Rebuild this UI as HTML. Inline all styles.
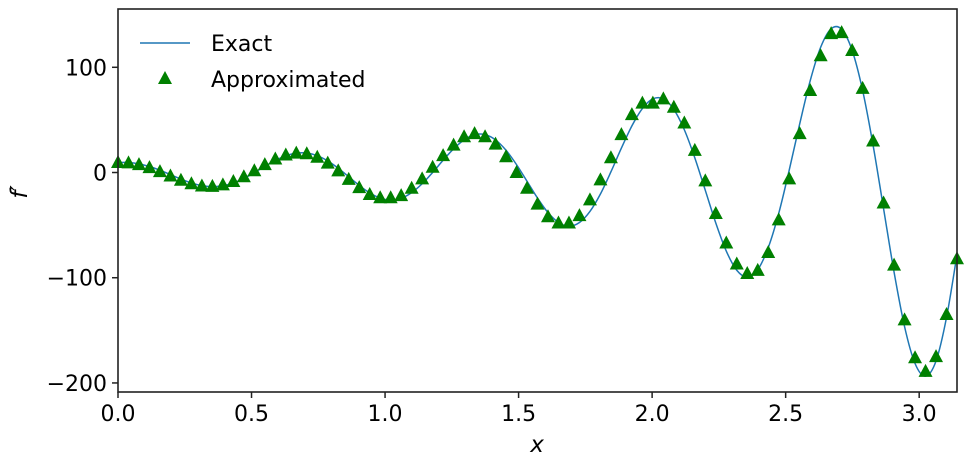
<!DOCTYPE html>
<html><head><meta charset="utf-8"><style>
body{margin:0;background:#fff;}
svg{display:block;font-family:"DejaVu Sans","Liberation Sans",sans-serif;}
</style></head><body>
<svg id="chart" width="966" height="465" viewBox="0 0 966 465">
<g id="series"></g>
<rect x="118" y="9" width="839" height="383" fill="none" stroke="#222" stroke-width="1.6"/>
<g id="axes"></g>
<text x="537" y="452" font-size="23" font-style="italic" text-anchor="middle">x</text>
<text transform="translate(27,192) rotate(-90)" font-size="23" font-style="italic" text-anchor="middle">f′</text>
<g>
<line x1="140" y1="43" x2="190" y2="43" stroke="#1f77b4" stroke-width="1.5"/>
<text x="211" y="51" font-size="22">Exact</text>
<polygon points="165,71 172,84 158,84" fill="#008000"/>
<text x="211" y="87" font-size="22">Approximated</text>
</g>
</svg>
<script>
const exactValues=[9.43,9.51,8.25,5.72,2.16,-1.99,-6.21,-9.89,-12.45,-13.45,-12.62,-9.91,-5.61,-0.11,5.84,11.43,15.86,18.39,18.51,15.99,11.00,4.03,-4.07,-12.28,-19.39,-24.33,-26.20,-24.50,-19.14,-10.70,0.06,11.64,22.51,31.06,35.88,35.99,30.97,21.14,7.50,-8.31,-24.26,-38.05,-47.54,-51.04,-47.55,-36.97,-20.39,0.62,23.18,44.29,60.80,70.00,69.99,59.96,40.63,13.94,-16.92,-47.94,-74.65,-92.88,-99.41,-92.30,-71.39,-38.86,2.21,46.16,87.13,119.02,136.57,136.10,116.10,78.06,25.84,-34.39,-94.72,-146.47,-181.51,-193.59,-179.14,-137.81,-78.0];
const approxValues=[9.5,9.1,7.5,4.6,0.9,-3.3,-7.3,-10.7,-12.8,-13.2,-11.8,-8.6,-4.0,1.7,7.5,12.8,16.6,18.4,17.8,14.5,8.9,1.6,-6.5,-14.4,-20.9,-24,-24,-22,-15,-6,5,16,26,34,37,34,27,15,0,-15,-30,-42,-48,-48,-41,-26,-7,14,36,55,66,66,70,62,47,21,-8,-39,-67,-87,-96,-93,-76,-45,-6,37,78,111,132,133,116,80,30,-29,-88,-140,-176,-189,-175,-135,-82];
const xTicks=[0,0.5,1.0,1.5,2.0,2.5,3.0];
const xTickLabels=["0.0","0.5","1.0","1.5","2.0","2.5","3.0"];
const yTicks=[-200,-100,0,100];
const yTickLabels=["\u2212200","\u2212100","0","100"];
const X0=118,X1=957,Y0=392,Y1=9,XMIN=0,XMAX=Math.PI,YMIN=-208.6,YMAX=155.4;
function sx(v){return X0+(v-XMIN)/(XMAX-XMIN)*(X1-X0);}
function sy(v){return Y0-(v-YMIN)/(YMAX-YMIN)*(Y0-Y1);}
const NS="http://www.w3.org/2000/svg";
const axes=document.getElementById('axes');
const series=document.getElementById('series');
xTicks.forEach((t,i)=>{
  const l=document.createElementNS(NS,'line');
  l.setAttribute('x1',sx(t));l.setAttribute('x2',sx(t));l.setAttribute('y1',392);l.setAttribute('y2',398);
  l.setAttribute('stroke','#222');l.setAttribute('stroke-width','1.5');
  
  
  axes.appendChild(l);
  const tx=document.createElementNS(NS,'text');
  tx.setAttribute('x',sx(t));tx.setAttribute('y',421);tx.setAttribute('font-size','22');tx.setAttribute('text-anchor','middle');
  tx.textContent=xTickLabels[i];
  
  
  axes.appendChild(tx);
});
yTicks.forEach((t,i)=>{
  const l=document.createElementNS(NS,'line');
  l.setAttribute('x1',112);l.setAttribute('x2',118);l.setAttribute('y1',sy(t));l.setAttribute('y2',sy(t));
  l.setAttribute('stroke','#222');l.setAttribute('stroke-width','1.5');
  
  
  axes.appendChild(l);
  const tx=document.createElementNS(NS,'text');
  tx.setAttribute('x',107);tx.setAttribute('y',sy(t)+8);tx.setAttribute('font-size','22');tx.setAttribute('text-anchor','end');
  tx.textContent=yTickLabels[i];
  
  
  axes.appendChild(tx);
});
const n=exactValues.length;
function xAt(k,len){return k*Math.PI/(len-1);}
const pts=exactValues.map((v,k)=>[sx(xAt(k,n)),sy(v)]);
let d='M'+pts[0][0]+','+pts[0][1];
for(let i=0;i<pts.length-1;i++){
  const p0=pts[Math.max(0,i-1)],p1=pts[i],p2=pts[i+1],p3=pts[Math.min(pts.length-1,i+2)];
  const c1=[p1[0]+(p2[0]-p0[0])/6,p1[1]+(p2[1]-p0[1])/6];
  const c2=[p2[0]-(p3[0]-p1[0])/6,p2[1]-(p3[1]-p1[1])/6];
  d+=' C'+c1[0]+','+c1[1]+' '+c2[0]+','+c2[1]+' '+p2[0]+','+p2[1];
}
const path=document.createElementNS(NS,'path');
path.setAttribute('d',d);path.setAttribute('fill','none');path.setAttribute('stroke','#1f77b4');path.setAttribute('stroke-width','1.5');


series.appendChild(path);
const m=approxValues.length;
approxValues.forEach((v,k)=>{
  const cx=sx(xAt(k,m)),cy=sy(v);
  const p=document.createElementNS(NS,'polygon');
  p.setAttribute('points',`${cx},${cy-7.5} ${cx+7},${cy+5.5} ${cx-7},${cy+5.5}`);
  p.setAttribute('fill','#008000');
  
  
  series.appendChild(p);
});
</script>
</body></html>
